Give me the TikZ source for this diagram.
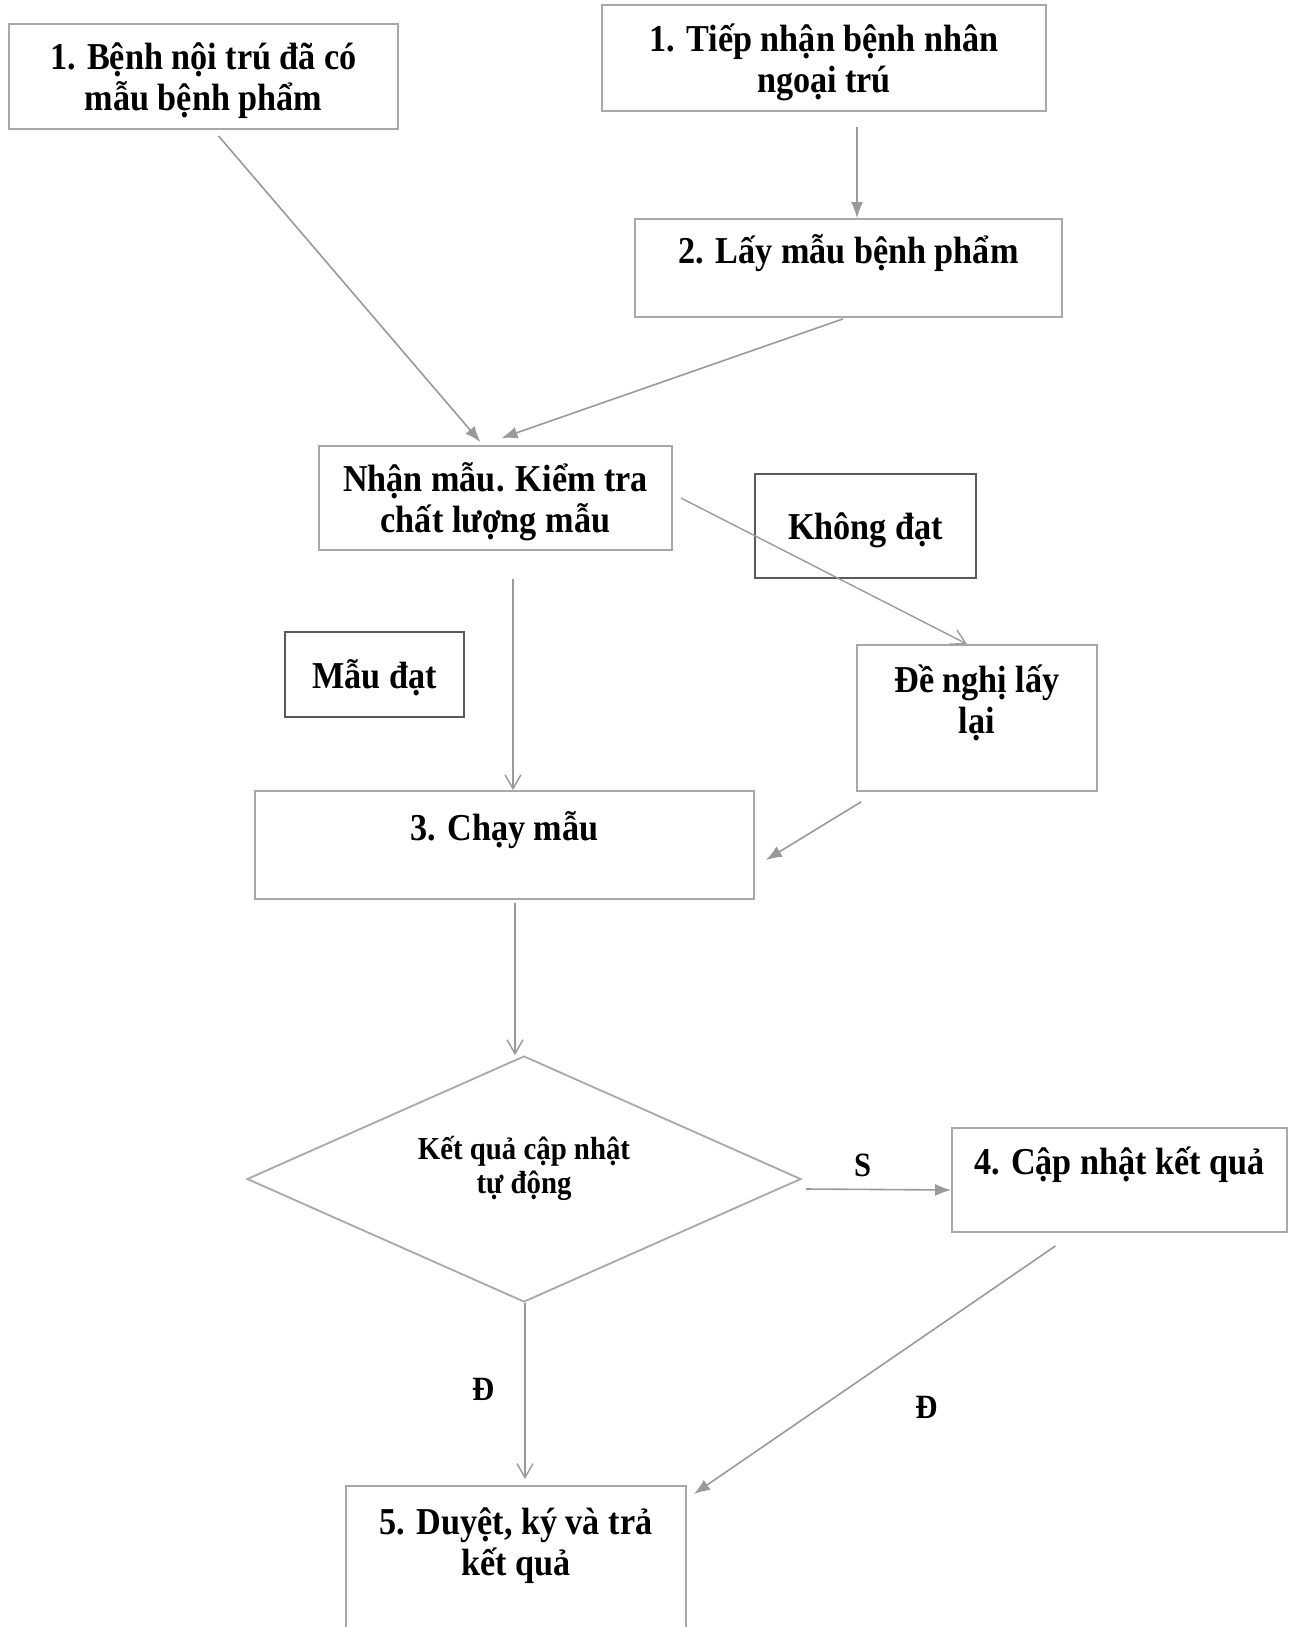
\documentclass[tikz,border=0pt]{standalone}
\usepackage{fontspec}
\newfontfamily\flowfont{Liberation Serif}[FakeStretch=0.9]
\usetikzlibrary{shapes.geometric,arrows.meta}
\definecolor{linegray}{HTML}{9A9A9A}
\definecolor{boxgray}{HTML}{A8A8A8}
\definecolor{darkbox}{HTML}{5A5A5A}

\begin{document}
\begin{tikzpicture}[x=0.5pt,y=-0.5pt]
\tikzset{box/.style={draw=boxgray,line width=0.9pt,align=center,inner sep=0pt,text depth=0pt,
  font=\flowfont\bfseries\fontsize{19pt}{20.5pt}\selectfont}}
\tikzset{tagbox/.style={box,draw=darkbox,line width=1.1pt}}
\tikzset{raised/.style={text depth=19pt}}
\tikzset{link/.style={draw=linegray,line width=0.8pt,-{Latex[length=8pt,width=6pt]}}}
\tikzset{openlink/.style={draw=linegray,line width=0.7pt,-{Straight Barb[length=7pt,width=8pt]}}}
\tikzset{lbl/.style={font=\flowfont\bfseries\fontsize{17pt}{17pt}\selectfont,inner sep=2pt}}

\path[use as bounding box,fill=white] (0,0) rectangle (1295,1627);

\node[box,minimum width=194.5pt,minimum height=52.5pt] (inpat) at (203.5,76.5) {1. Bệnh nội trú đã có\\mẫu bệnh phẩm};
\node[box,minimum width=222pt,minimum height=53pt] (outpat) at (824,58) {1. Tiếp nhận bệnh nhân\\ngoại trú};
\node[box,raised,minimum width=213.5pt,minimum height=49pt] (take) at (848.5,268) {2. Lấy mẫu bệnh phẩm};
\node[box,minimum width=176.5pt,minimum height=52pt] (check) at (495.5,498) {Nhận mẫu. Kiểm tra\\chất lượng mẫu};
\node[tagbox,minimum width=110.5pt,minimum height=52pt] (fail) at (865.5,526) {Không đạt};
\node[tagbox,minimum width=89.5pt,minimum height=42.5pt] (pass) at (374.5,674.5) {Mẫu đạt};
\node[box,raised,minimum width=120pt,minimum height=73pt] (redo) at (977,718) {Đề nghị lấy\\lại};
\node[box,raised,minimum width=249.5pt,minimum height=54pt] (run) at (504.5,845) {3. Chạy mẫu};
\node[box,shape=diamond,aspect=2.25,minimum width=277pt,minimum height=123pt,text depth=14pt,
  font=\flowfont\bfseries\fontsize{16pt}{17pt}\selectfont] (auto) at (524,1179) {Kết quả cập nhật\\tự động};
\node[box,raised,minimum width=167.5pt,minimum height=52pt] (update) at (1119.5,1180) {4. Cập nhật kết quả};
\node[box,anchor=north,minimum width=170pt,inner ysep=11pt,text depth=70pt] (sign) at (516,1485) {5. Duyệt, ký và trả\\kết quả};

\draw[link] ([xshift=7.5pt,yshift=-3pt]inpat.south) -- ([xshift=-7.5pt,yshift=1.5pt]check.north);
\draw[link] ([xshift=-2.75pt,yshift=-0.5pt]take.south) -- ([xshift=3pt,yshift=3.5pt]check.north);
\draw[link] ([xshift=16.5pt,yshift=-7.5pt]outpat.south) -- ([xshift=4.25pt]take.north);
\draw[openlink] ([xshift=4pt]check.east) -- ([xshift=-5pt]redo.north);
\draw[openlink] ([xshift=8.75pt,yshift=-14pt]check.south) -- ([xshift=4.25pt]run.north);
\draw[link] ([xshift=2.5pt,yshift=-5pt]redo.south west) -- ([xshift=5.5pt,yshift=-7.5pt]run.east);
\draw[openlink] ([xshift=5.25pt,yshift=-1.5pt]run.south) -- ([xshift=-4.5pt]auto.north);
\draw[link] ([xshift=2pt,yshift=-5pt]auto.east) -- node[lbl,above=4pt,pos=0.39] (sno) {S} ([yshift=-5pt]update.west);
\draw[openlink] ([xshift=0.5pt]auto.south) -- node[lbl,left=13pt,pos=0.49] (dyes) {Đ} ([xshift=4.5pt,yshift=3pt]sign.north);
\draw[link] ([xshift=-32pt,yshift=-6.5pt]update.south) -- node[lbl,right=45pt,pos=0.65] (dupd) {Đ} ([xshift=3.5pt,yshift=-4.5pt]sign.north east);
\end{tikzpicture}
\end{document}
